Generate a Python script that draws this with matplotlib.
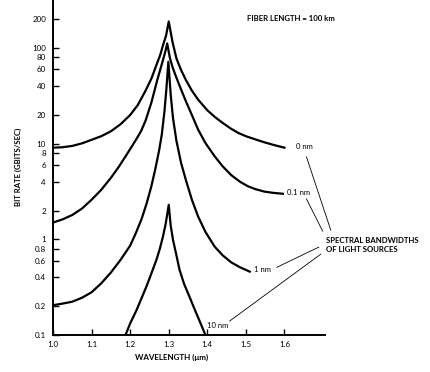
import matplotlib
matplotlib.use("Agg")
import matplotlib.pyplot as plt
from matplotlib.ticker import FixedLocator, NullLocator

plt.rcParams['font.family'] = ['Lato', 'DejaVu Sans']

# curves: wavelength (um), bit rate (Gbit/s)
wl_0nm = [1.00, 1.025, 1.05, 1.075, 1.10, 1.125, 1.15, 1.175, 1.20, 1.22, 1.24,
          1.255, 1.27, 1.278, 1.285, 1.293, 1.30, 1.31, 1.32, 1.332, 1.345,
          1.36, 1.376, 1.40, 1.42, 1.44, 1.46, 1.48, 1.50, 1.525, 1.55, 1.575, 1.60]
br_0nm = [9.1, 9.2, 9.5, 10.1, 11, 12, 13.5, 16, 20, 25.5, 36,
          48, 70, 85, 107, 135, 190, 115, 78, 59, 46,
          36, 29, 22.4, 19, 16.5, 14.5, 13, 12, 11.1, 10.3, 9.65, 9.1]

wl_01nm = [1.00, 1.025, 1.05, 1.075, 1.10, 1.125, 1.15, 1.17, 1.19, 1.215, 1.228,
           1.24, 1.255, 1.27, 1.285, 1.292, 1.296, 1.303, 1.31, 1.32, 1.332,
           1.345, 1.36, 1.376, 1.395, 1.419, 1.44, 1.462, 1.485, 1.505, 1.525,
           1.548, 1.57, 1.596]
br_01nm = [1.5, 1.62, 1.8, 2.1, 2.6, 3.3, 4.4, 5.7, 7.6, 11, 13.5,
           17.5, 27, 46, 75, 95, 112, 79, 63, 49, 37,
           27.5, 20, 14.1, 10.2, 7.4, 5.8, 4.7, 4.0, 3.6, 3.35,
           3.16, 3.07, 3.0]

wl_1nm = [1.00, 1.025, 1.05, 1.075, 1.10, 1.125, 1.15, 1.175, 1.20, 1.215, 1.23,
          1.243, 1.255, 1.265, 1.275, 1.282, 1.289, 1.294, 1.299, 1.305, 1.311,
          1.32, 1.332, 1.345, 1.36, 1.376, 1.395, 1.419, 1.44, 1.462, 1.485, 1.51]
br_1nm = [0.205, 0.213, 0.223, 0.245, 0.28, 0.347, 0.45, 0.61, 0.86, 1.17, 1.65,
          2.4, 3.6, 5.4, 8.5, 12.5, 22, 38, 72, 33, 18.6,
          10.7, 6.3, 4.1, 2.6, 1.74, 1.2, 0.84, 0.68, 0.575, 0.51, 0.46]

wl_10nm = [1.188, 1.20, 1.216, 1.229, 1.242, 1.255, 1.268, 1.277, 1.285, 1.292, 1.30,
           1.305, 1.311, 1.32, 1.328, 1.34, 1.354, 1.367, 1.38, 1.395]
br_10nm = [0.1, 0.132, 0.18, 0.24, 0.32, 0.44, 0.61, 0.8, 1.07, 1.45, 2.3,
           1.4, 0.99, 0.68, 0.48, 0.34, 0.25, 0.186, 0.14, 0.1]

curve_labels = ["0 nm", "0.1 nm", "1 nm", "10 nm"]
label_pos = [(1.629, 9.3), (1.606, 3.06), (1.52, 0.48), (1.398, 0.125)]

# leader lines from the labels to the note
leaders = [((1.657, 7.3), (1.72, 1.25)),
           ((1.657, 2.65), (1.699, 1.22)),
           ((1.58, 0.51), (1.689, 0.83)),
           ((1.458, 0.14), (1.694, 0.70))]

yticks = [0.1, 0.2, 0.4, 0.6, 0.8, 1, 2, 4, 6, 8, 10, 20, 40, 60, 80, 100, 200]
ytick_labels = ["0.1", "0.2", "0.4", "0.6", "0.8", "1", "2", "4", "6", "8",
                "10", "20", "40", "60", "80", "100", "200"]
xticks = [1.0, 1.1, 1.2, 1.3, 1.4, 1.5, 1.6]

fig = plt.figure(figsize=(4.31, 3.72), dpi=100)
ax = fig.add_axes([0.123, 0.0995, 0.631, 0.898])

for wl, br in [(wl_0nm, br_0nm), (wl_01nm, br_01nm), (wl_1nm, br_1nm), (wl_10nm, br_10nm)]:
    ax.plot(wl, br, color='black', lw=1.6, solid_joinstyle='round')

ax.set_yscale('log')
ax.set_xlim(1.0, 1.705)
ax.set_ylim(0.1, 312)

ax.yaxis.set_major_locator(FixedLocator(yticks))
ax.yaxis.set_minor_locator(NullLocator())
ax.set_yticklabels(ytick_labels)
ax.set_xticks(xticks)
ax.set_xticklabels(["%.1f" % t for t in xticks])

for s in ['top', 'right']:
    ax.spines[s].set_visible(False)
for s in ['left', 'bottom']:
    ax.spines[s].set_linewidth(1.4)

ax.tick_params(direction='in', length=4, width=1, labelsize=5.8, pad=5)
ax.tick_params(axis='x', pad=4)

for txt, (x, y) in zip(curve_labels, label_pos):
    ax.text(x, y, txt, fontsize=5.5, ha='left', va='center')

for (x0, y0), (x1, y1) in leaders:
    ax.plot([x0, x1], [y0, y1], color='black', lw=0.6, clip_on=False)

ax.text(1.707, 0.874, "SPECTRAL BANDWIDTHS\nOF LIGHT SOURCES", fontsize=5.6,
        fontweight='bold', ha='left', va='center', linespacing=1.3)
ax.text(1.502, 202, "FIBER LENGTH = 100 km", fontsize=5.6, fontweight='bold',
        ha='left', va='center')

fig.text(172 / 431, 1 - 357 / 372, "WAVELENGTH (\u03bcm)", fontsize=5.8,
         fontweight='bold', ha='center', va='center')
fig.text(18 / 431, 1 - 167 / 372, "BIT RATE (GBITS/SEC)", fontsize=5.6,
         fontweight='bold', ha='center', va='center', rotation=90)

fig.savefig("out.png", dpi=100)
